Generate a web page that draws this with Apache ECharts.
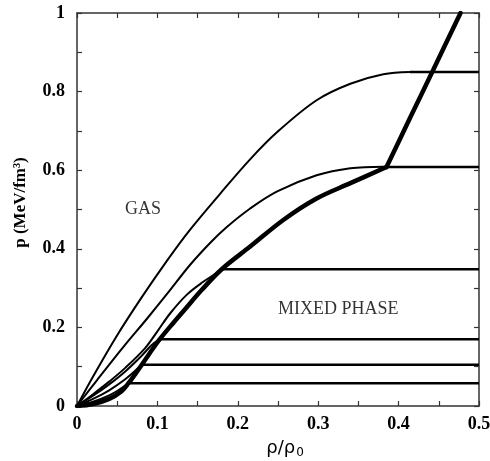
<!DOCTYPE html>
<html><head><meta charset="utf-8">
<script src="https://cdn.jsdelivr.net/npm/echarts@6/dist/echarts.min.js"></script>
<style>html,body{margin:0;padding:0;background:#fff}#c{width:490px;height:461px}</style>
</head><body><div id="c"></div>
<script>
// tick labels
const xTicks = [0, 0.1, 0.2, 0.3, 0.4, 0.5];
const xTickLabels = ['0', '0.1', '0.2', '0.3', '0.4', '0.5'];
const yTicks = [0, 0.2, 0.4, 0.6, 0.8, 1];
const yTickLabels = ['0', '0.2', '0.4', '0.6', '0.8', '1'];

// isotherm curves (rho/rho0, p)
const iso1 = [[0,0],[0.02,0.075],[0.05,0.18],[0.08,0.275],[0.112,0.37],[0.14,0.447],[0.178,0.54],[0.215,0.627],[0.249,0.697],[0.298,0.778],[0.34,0.82],[0.381,0.844],[0.414,0.85]];
const iso2 = [[0,0],[0.025,0.066],[0.058,0.151],[0.087,0.222],[0.112,0.285],[0.141,0.36],[0.167,0.418],[0.186,0.455],[0.215,0.502],[0.249,0.546],[0.298,0.587],[0.34,0.605],[0.381,0.609]];
const iso3 = [[0,0],[0.02,0.03],[0.04,0.062],[0.06,0.097],[0.085,0.148],[0.1,0.19],[0.116,0.236],[0.137,0.284],[0.157,0.316],[0.174,0.339],[0.18,0.348]];
const iso4 = [[0,0],[0.02,0.026],[0.04,0.055],[0.06,0.088],[0.08,0.127],[0.093,0.155],[0.103,0.17]];
const iso5 = [[0,0],[0.02,0.018],[0.04,0.04],[0.06,0.068],[0.072,0.089],[0.08,0.105]];
const iso6 = [[0,0],[0.02,0.011],[0.04,0.027],[0.055,0.045],[0.064,0.058]];

// plateau (mixed phase) pressures and starting densities
const plateauLevels = [0.85, 0.608, 0.348, 0.17, 0.105, 0.058];
const plateauStarts = [0.414, 0.381, 0.18, 0.103, 0.08, 0.064];
const plateauEnd = 0.5;

// coexistence boundary (thick curve)
const boundaryLow = [[0,0],[0.02,0.005],[0.04,0.018],[0.055,0.037],[0.064,0.058],[0.072,0.08],[0.08,0.103],[0.09,0.133],[0.103,0.17],[0.12,0.212],[0.136,0.25],[0.155,0.295],[0.18,0.348],[0.215,0.405],[0.257,0.474],[0.298,0.528],[0.34,0.567],[0.385,0.608]];
const boundaryHigh = [[0.385,0.608],[0.414,0.732],[0.443,0.855],[0.477,1.0]];

// region annotations
const annotTexts = ['GAS', 'MIXED PHASE'];
const annotPos = [[0.082, 0.5], [0.325, 0.245]];

function lab(ticks, labels) {
  return v => { const i = ticks.findIndex(t => Math.abs(t - v) < 1e-9); return i >= 0 ? labels[i] : ''; };
}

const serif = 'Liberation Serif';
const axisCommon = {
  type: 'value',
  axisLine: { show: true, onZero: false, lineStyle: { color: '#333', width: 1.5 } },
  axisTick: { show: true, inside: true, length: 5, lineStyle: { color: '#333', width: 1.2 } },
  minorTick: { show: true, splitNumber: 2, length: 5, lineStyle: { color: '#333', width: 1.2 } },
  splitLine: { show: false }
};

const series = [];
[iso1, iso2, iso3, iso4, iso5, iso6].forEach(d => series.push({
  type: 'line', data: d, smooth: 0.35, showSymbol: false, symbol: 'none',
  lineStyle: { color: '#000', width: 2 }, z: 2
}));
plateauLevels.forEach((p, i) => series.push({
  type: 'line', data: [[plateauStarts[i], p], [plateauEnd, p]], showSymbol: false, symbol: 'none',
  lineStyle: { color: '#000', width: 2.5 }, z: 2
}));
series.push({ type: 'line', data: boundaryLow, smooth: 0.35, showSymbol: false, symbol: 'none',
  lineStyle: { color: '#000', width: 4.5, cap: 'round' }, z: 3 });
series.push({ type: 'line', data: boundaryHigh, smooth: 0.3, showSymbol: false, symbol: 'none',
  lineStyle: { color: '#000', width: 4.5, cap: 'round' }, z: 3 });
series.push({
  type: 'scatter', symbolSize: 0, silent: true,
  data: annotTexts.map((t, i) => ({ name: t, value: annotPos[i] })),
  label: { show: true, position: 'inside', formatter: p => p.name,
    fontFamily: serif, fontSize: 18, color: '#000' }
});

const chart = echarts.init(document.getElementById('c'), null, { renderer: 'canvas' });
chart.setOption({
  animation: false,
  backgroundColor: '#fff',
  grid: { left: 77, right: 11, top: 13, bottom: 55, containLabel: false, outerBoundsMode: 'none' },
  xAxis: [
    Object.assign({}, axisCommon, {
      min: 0, max: 0.5, interval: 0.1, position: 'bottom',
      axisLabel: { formatter: lab(xTicks, xTickLabels), fontFamily: serif, fontWeight: 'bold', fontSize: 18, color: '#000', margin: 9 },
      name: '{a|ρ/ρ}{s|0}', nameLocation: 'middle', nameGap: 30,
      nameTextStyle: { color: '#000', padding: [0, 0, 0, 14],
        rich: { a: { fontFamily: 'DejaVu Sans', fontSize: 18, color: '#000', lineHeight: 22 },
                s: { fontFamily: 'DejaVu Sans', fontSize: 12, color: '#000', lineHeight: 22, padding: [9, 0, 0, 1] } } }
    }),
    Object.assign({}, axisCommon, {
      min: 0, max: 0.5, interval: 0.1, position: 'top', axisLabel: { show: false }
    })
  ],
  yAxis: [
    Object.assign({}, axisCommon, {
      min: 0, max: 1, interval: 0.2, position: 'left',
      axisLabel: { formatter: lab(yTicks, yTickLabels), fontFamily: serif, fontWeight: 'bold', fontSize: 18, color: '#000', margin: 12 },
      name: 'p (MeV/fm³)', nameLocation: 'middle', nameGap: 48,
      nameTextStyle: { fontFamily: serif, fontWeight: 'bold', fontSize: 17, color: '#000', padding: [0, 0, 0, 14] }
    }),
    Object.assign({}, axisCommon, {
      min: 0, max: 1, interval: 0.2, position: 'right', axisLabel: { show: false }
    })
  ],
  series: series
});
</script>
</body></html>
